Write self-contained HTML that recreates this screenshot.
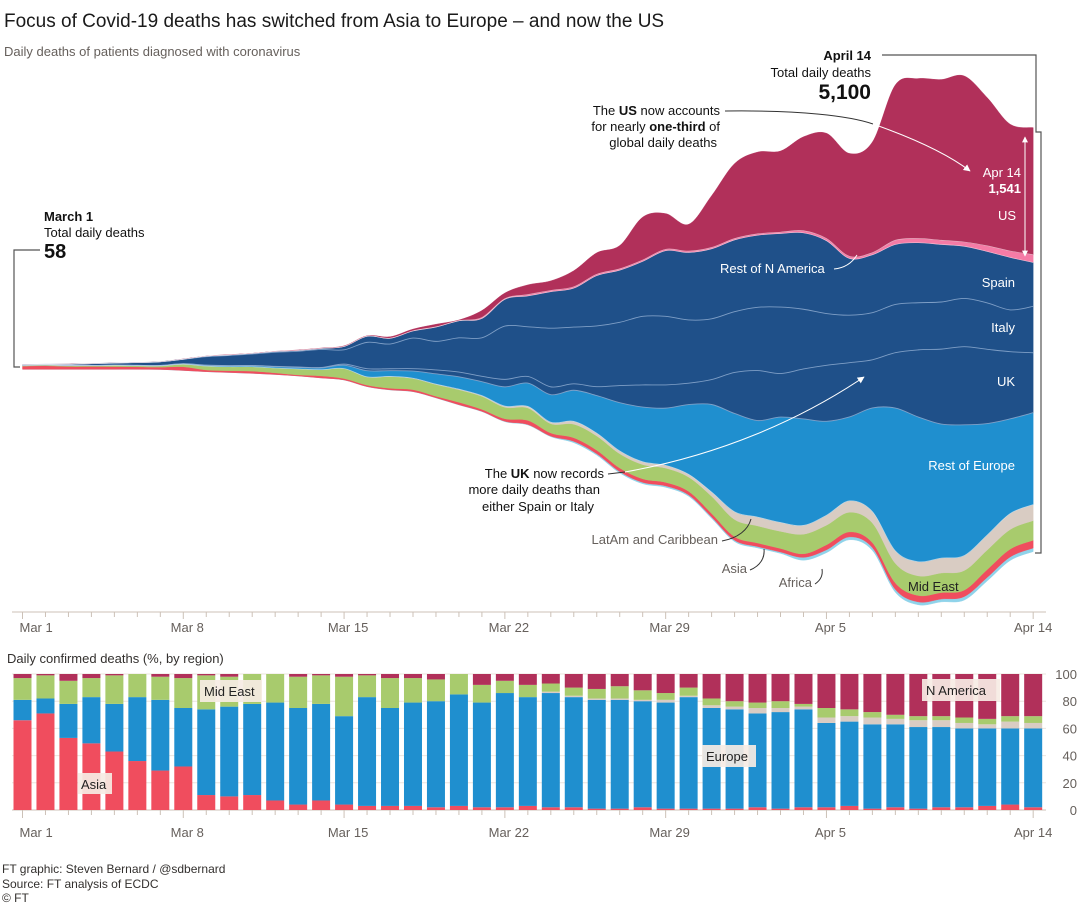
<!DOCTYPE html>
<html><head><meta charset="utf-8">
<style>
html,body{margin:0;padding:0;background:#fff;}
body{width:1080px;height:903px;overflow:hidden;font-family:"Liberation Sans",Arial,sans-serif;}
svg text{font-family:"Liberation Sans",Arial,sans-serif;}
</style></head>
<body>
<svg id="chart" width="1080" height="903" viewBox="0 0 1080 903" xmlns="http://www.w3.org/2000/svg">
<defs>
<marker id="arrW" viewBox="0 0 10 10" refX="9" refY="5" markerWidth="7" markerHeight="7" orient="auto"><path d="M0,0 L10,5 L0,10 z" fill="#fff"/></marker>
<marker id="arrWs" viewBox="0 0 10 10" refX="9" refY="5" markerWidth="6" markerHeight="6" orient="auto-start-reverse"><path d="M0,0 L10,5 L0,10 z" fill="#fff"/></marker>
</defs>
<text x="4" y="27" font-size="19" fill="#1a1a1a">Focus of Covid-19 deaths has switched from Asia to Europe – and now the US</text>
<text x="4" y="56" font-size="13" fill="#66605c">Daily deaths of patients diagnosed with coronavirus</text>
<g id="stream"></g>
<g id="streamAxis"></g>
<text x="7" y="663" font-size="13" fill="#33302e">Daily confirmed deaths (%, by region)</text>
<g id="barGrid"></g>
<g id="bars"></g>
<g id="barAxis"></g>

<!-- annotations -->
<g>
<path d="M40,250 L14,250 L14,367 L20,367" fill="none" stroke="#555" stroke-width="1.2"/>
<text x="44" y="221" font-size="13" font-weight="bold" fill="#111">March 1</text>
<text x="44" y="237" font-size="13" fill="#111">Total daily deaths</text>
<text x="44" y="258" font-size="20" font-weight="bold" fill="#111">58</text>
</g>
<g>
<path d="M882,55 L1036,55 L1036,132 L1041,132 L1041,553 L1035,553" fill="none" stroke="#555" stroke-width="1.2"/>
<text x="871" y="60" font-size="13" font-weight="bold" fill="#111" text-anchor="end">April 14</text>
<text x="871" y="77" font-size="13" fill="#111" text-anchor="end">Total daily deaths</text>
<text x="871" y="99" font-size="21" font-weight="bold" fill="#111" text-anchor="end">5,100</text>
</g>
<g>
<text x="720" y="115" font-size="13" fill="#111" text-anchor="end">The <tspan font-weight="bold">US</tspan> now accounts</text>
<text x="720" y="131" font-size="13" fill="#111" text-anchor="end">for nearly <tspan font-weight="bold">one-third</tspan> of</text>
<text x="717" y="147" font-size="13" fill="#111" text-anchor="end">global daily deaths</text>
<path d="M725,111 C800,110 850,116 873,124" fill="none" stroke="#333" stroke-width="1"/>
<path d="M873,124 C910,137 945,152 970,171" fill="none" stroke="#fff" stroke-width="1" marker-end="url(#arrW)"/>
<text x="1021" y="177" font-size="13" fill="#fff" text-anchor="end">Apr 14</text>
<text x="1021" y="193" font-size="13" font-weight="bold" fill="#fff" text-anchor="end">1,541</text>
<text x="1016" y="220" font-size="13" fill="#fff" text-anchor="end">US</text>
<path d="M1025,137 L1025,256" stroke="#fff" stroke-width="1" fill="none" marker-start="url(#arrWs)" marker-end="url(#arrWs)"/>
</g>
<g font-size="13" fill="#fff">
<text x="720" y="273">Rest of N America</text>
<path d="M834,269 C845,268 852,263 857,255" fill="none" stroke="#fff" stroke-width="1"/>
<text x="1015" y="287" text-anchor="end">Spain</text>
<text x="1015" y="332" text-anchor="end">Italy</text>
<text x="1015" y="386" text-anchor="end">UK</text>
<text x="1015" y="470" text-anchor="end">Rest of Europe</text>
</g>
<g>
<text x="604" y="478" font-size="13" fill="#111" text-anchor="end">The <tspan font-weight="bold">UK</tspan> now records</text>
<text x="600" y="494" font-size="13" fill="#111" text-anchor="end">more daily deaths than</text>
<text x="594" y="511" font-size="13" fill="#111" text-anchor="end">either Spain or Italy</text>
<path d="M608,474 L625,472" stroke="#333" stroke-width="1" fill="none"/>
<path d="M625,472 C720,455 800,420 864,377" fill="none" stroke="#fff" stroke-width="1" marker-end="url(#arrW)"/>
</g>
<g font-size="13" fill="#66605c">
<text x="718" y="544" text-anchor="end">LatAm and Caribbean</text>
<path d="M722,541 C738,538 748,530 751,519" fill="none" stroke="#333" stroke-width="1"/>
<text x="747" y="573" text-anchor="end">Asia</text>
<path d="M750,570 C760,566 765,558 764,549" fill="none" stroke="#333" stroke-width="1"/>
<text x="812" y="587" text-anchor="end">Africa</text>
<path d="M815,584 C821,580 823,575 822,569" fill="none" stroke="#333" stroke-width="1"/>
<text x="908" y="591" fill="#222">Mid East</text>
</g>
<g font-size="13" fill="#222">
<rect x="200" y="680" width="62" height="22" fill="#f6ece4" opacity="0.92"/>
<text x="204" y="696">Mid East</text>
<rect x="78" y="773" width="34" height="21" fill="#f6ece4" opacity="0.92"/>
<text x="81" y="789">Asia</text>
<rect x="702" y="745" width="54" height="22" fill="#f6ece4" opacity="0.92"/>
<text x="706" y="761">Europe</text>
<rect x="922" y="679" width="78" height="22" fill="#f6ece4" opacity="0.92"/>
<text x="926" y="695">N America</text>
</g>
<g font-size="12" fill="#33302e">
<text x="2" y="873">FT graphic: Steven Bernard / @sdbernard</text>
<text x="2" y="888">Source: FT analysis of ECDC</text>
<text x="2" y="902">© FT</text>
</g>
</svg>
<script>
// ---- Stream data (daily deaths, Mar 1 .. Apr 14) ----
const days = 45;
const us = [2,1,3,2,1,0,2,4,2,4,0,2,5,4,7,5,17,20,31,9,85,68,118,116,195,260,282,520,433,325,628,910,992,984,1140,1278,1248,1343,1885,1941,1950,2015,1798,1538,1541];
const restNA = [0,0,0,0,0,0,0,0,0,0,0,0,1,0,1,1,2,3,4,1,12,9,16,16,17,17,17,17,17,17,17,17,17,17,26,26,26,26,52,52,52,52,69,78,95];
const spain = [0,0,0,0,0,0,0,0,6,7,8,10,11,13,40,74,69,86,173,207,234,324,375,443,472,611,633,667,797,819,849,871,875,893,927,884,689,702,728,728,698,633,624,637,533];
const italy = [8,6,14,22,24,34,44,54,102,122,139,171,190,219,174,319,300,371,346,415,468,647,603,712,689,737,767,832,832,767,737,737,767,806,724,628,576,572,585,572,572,585,563,507,563];
const uk = [0,0,0,0,0,0,0,0,2,3,3,4,5,5,13,25,23,29,48,58,65,91,80,95,78,108,208,269,282,260,303,498,607,529,607,680,659,585,672,815,910,949,901,815,728];
const restEurope = [1,1,2,2,3,4,5,6,10,12,13,16,18,21,40,74,69,86,124,149,168,233,282,333,377,455,585,663,693,845,1062,1192,1170,1278,1291,1140,1018,1257,1733,1755,1625,1586,1352,1148,1114];
const latam = [0,0,0,0,0,0,0,0,0,0,0,0,0,0,2,3,4,5,6,8,10,15,20,19,35,35,35,35,35,35,52,95,108,108,108,121,139,139,152,173,182,182,182,195,195];
const midEast = [9,10,11,10,16,14,16,31,47,48,53,59,73,76,120,98,141,135,142,152,158,139,151,113,165,173,173,173,173,173,208,208,208,208,238,238,238,238,238,238,238,238,238,238,238];
const asia = [38,43,34,34,33,30,28,45,21,22,27,20,13,25,17,18,19,23,18,30,24,31,50,38,43,43,43,43,43,43,43,43,43,43,43,61,61,61,78,78,78,78,95,95,95];
const africa = [0,0,0,0,0,0,0,0,0,0,0,0,0,0,1,1,2,2,3,3,4,5,6,7,17,17,17,17,17,17,17,17,17,17,35,35,35,35,35,35,35,43,43,43,43];
// stream baseline: deaths below the centre line
const streamOffset = [16,16,16,16,16,16,18,30,45,55,65,79,97,121,146,227,267,288,364,449,530,652,692,834,907,1058,1274,1405,1448,1557,1825,2107,2184,2250,2333,2242,2085,2215,2722,2874,2839,2817,2584,2336,2228];
// ---- Bar data (% share by region) ----
const barAsia = [66,71,53,49,43,36,29,32,11,10,11,7,4,7,4,3,3,3,2,3,2,2,3,2,2,1,1,2,1,1,1,1,2,1,2,2,3,1,2,1,2,2,3,4,2];
const barEurope = [15,11,25,34,35,47,52,43,63,66,67,72,71,71,65,80,72,76,78,82,77,84,80,84,81,80,80,78,78,82,74,73,69,71,72,62,62,62,61,60,59,58,57,56,58];
const barOther = [0,0,0,0,0,0,0,0,0,0,0,0,0,0,0,0,0,0,0,0,0,0,0,1,1,1,1,1,2,1,2,2,4,3,2,4,4,5,4,5,5,4,3,5,4];
const barMidEast = [16,17,17,14,21,17,17,22,25,22,22,21,23,21,29,16,22,18,16,15,13,9,9,6,6,7,9,7,5,6,5,4,4,5,2,7,5,4,3,3,3,4,4,4,5];
const barNAmerica = [3,1,5,3,1,0,2,3,1,2,0,0,2,1,2,1,3,3,4,0,8,5,8,7,10,11,9,12,14,10,18,20,21,20,22,25,26,28,30,31,31,32,33,31,31];
// ---- Axis labels ----
const dateLabels = ["Mar 1","Mar 8","Mar 15","Mar 22","Mar 29","Apr 5","Apr 14"];
const dateLabelIdx = [0,7,14,21,28,35,44];
const pctTicks = [0,20,40,60,80,100];

const NS = "http://www.w3.org/2000/svg";
function mk(tag, attrs, parent){const e=document.createElementNS(NS,tag);for(const k in attrs)e.setAttribute(k,attrs[k]);parent.appendChild(e);return e;}

// scales
const X0 = 22.5, DX = 22.97;
function xDay(i){return X0 + DX*i;}
const Y0 = 368, K = 0.0824;
function yStream(v){return Y0 - v*K;}
const BAR_BASE = 810, BAR_K = 1.36;
function yPct(p){return BAR_BASE - p*BAR_K;}

function smooth(pts){
  let d = "M"+pts[0][0].toFixed(2)+","+pts[0][1].toFixed(2);
  for(let i=0;i<pts.length-1;i++){
    const p0=pts[Math.max(0,i-1)], p1=pts[i], p2=pts[i+1], p3=pts[Math.min(pts.length-1,i+2)];
    const c1x=p1[0]+(p2[0]-p0[0])/6, c1y=p1[1]+(p2[1]-p0[1])/6;
    const c2x=p2[0]-(p3[0]-p1[0])/6, c2y=p2[1]-(p3[1]-p1[1])/6;
    d += " C"+c1x.toFixed(2)+","+c1y.toFixed(2)+" "+c2x.toFixed(2)+","+c2y.toFixed(2)+" "+p2[0].toFixed(2)+","+p2[1].toFixed(2);
  }
  return d;
}
function smoothCont(pts){ return smooth(pts).replace(/^M/,"L"); }

// ---- streamgraph ----
const stream = document.getElementById("stream");
const layers = [
  {name:"africa-layer", data:africa, color:"#8fd3ea"},
  {name:"asia-layer", data:asia, color:"#f04d5e"},
  {name:"mid-east-layer", data:midEast, color:"#a8cb6d"},
  {name:"latam-layer", data:latam, color:"#d9ccc3"},
  {name:"rest-of-europe-layer", data:restEurope, color:"#1f8fcf"},
  {name:"uk-layer", data:uk, color:"#1f5089"},
  {name:"italy-layer", data:italy, color:"#1f5089"},
  {name:"spain-layer", data:spain, color:"#1f5089"},
  {name:"rest-of-n-america-layer", data:restNA, color:"#f57ba6"},
  {name:"us-layer", data:us, color:"#b1305a"}
];
let cum = streamOffset.map(o => -o);
const boundaries = [];
layers.forEach(L => {
  const lower = [], upper = [];
  for(let i=0;i<days;i++){
    lower.push([xDay(i), yStream(cum[i])]);
    cum[i] += L.data[i];
    upper.push([xDay(i), yStream(cum[i])]);
  }
  boundaries.push(upper);
  const d = smooth(upper) + " " + smoothCont(lower.slice().reverse()) + " Z";
  const p = mk("path", {d:d, fill:L.color, stroke:L.color, "stroke-width":"0.4"}, stream);
  
  
});
// separator lines inside Europe
[4,5,6].forEach(bi => {
  const p = mk("path", {d:smooth(boundaries[bi]), fill:"none", stroke:"#8eabd0", "stroke-width":"0.9", opacity:"0.85"}, stream);
  
  
});
[3,7,8].forEach(bi => {
  const p = mk("path", {d:smooth(boundaries[bi]), fill:"none", stroke:"#ffffff", "stroke-width":"0.6", opacity:"0.6"}, stream);
  
  
});

// ---- stream x axis ----
const sa = document.getElementById("streamAxis");
mk("line",{x1:12,x2:1046,y1:612,y2:612,stroke:"#ccc1b7","stroke-width":"1"},sa);
for(let i=0;i<days;i++){
  const t = mk("line",{x1:xDay(i),x2:xDay(i),y1:612,y2:dateLabelIdx.includes(i)?619:617,stroke:"#ccc1b7","stroke-width":"1"},sa);
  
  
}
dateLabels.forEach((lab,j) => {
  const i = dateLabelIdx[j];
  const anchor = j===0 ? "start" : "middle";
  const x = j===0 ? xDay(i)-3 : (j===dateLabels.length-1 ? xDay(i) : xDay(i)+4);
  const t = mk("text",{x:x,y:632,"font-size":"13",fill:"#66605c","text-anchor":anchor},sa);
  t.textContent = lab;
  
  
});

// ---- bar gridlines + y labels ----
const bg = document.getElementById("barGrid");
pctTicks.forEach(p => {
  const l = mk("line",{x1:12,x2:1046,y1:yPct(p),y2:yPct(p),stroke:p===0?"#ccc1b7":"#ebe4de","stroke-width":"1"},bg);
  
  
  const t = mk("text",{x:1077,y:yPct(p)+5,"font-size":"13",fill:"#66605c","text-anchor":"end"},bg);
  t.textContent = String(p);
  
  
});

// ---- bars ----
const barsG = document.getElementById("bars");
const barSeries = [
  {name:"asia", data:barAsia, color:"#f04d5e"},
  {name:"europe", data:barEurope, color:"#1f8fcf"},
  {name:"other", data:barOther, color:"#d9ccc3"},
  {name:"mid-east", data:barMidEast, color:"#a8cb6d"},
  {name:"n-america", data:barNAmerica, color:"#b1305a"}
];
const BW = 18;
for(let i=0;i<days;i++){
  let acc = 0;
  barSeries.forEach(s => {
    const v = s.data[i];
    if(v<=0) return;
    const yTop = yPct(acc+v), yBot = yPct(acc);
    const r = mk("rect",{x:xDay(i)-BW/2,y:yTop,width:BW,height:yBot-yTop,fill:s.color},barsG);
    
    
    acc += v;
  });
}

// ---- bar x axis ----
const ba = document.getElementById("barAxis");
for(let i=0;i<days;i++){
  const t = mk("line",{x1:xDay(i),x2:xDay(i),y1:810,y2:dateLabelIdx.includes(i)?818:815,stroke:"#ccc1b7","stroke-width":"1"},ba);
  
  
}
dateLabels.forEach((lab,j) => {
  const i = dateLabelIdx[j];
  const anchor = j===0 ? "start" : "middle";
  const x = j===0 ? xDay(i)-3 : (j===dateLabels.length-1 ? xDay(i) : xDay(i)+4);
  const t = mk("text",{x:x,y:837,"font-size":"13",fill:"#66605c","text-anchor":anchor},ba);
  t.textContent = lab;
  
  
});
</script>
</body></html>
